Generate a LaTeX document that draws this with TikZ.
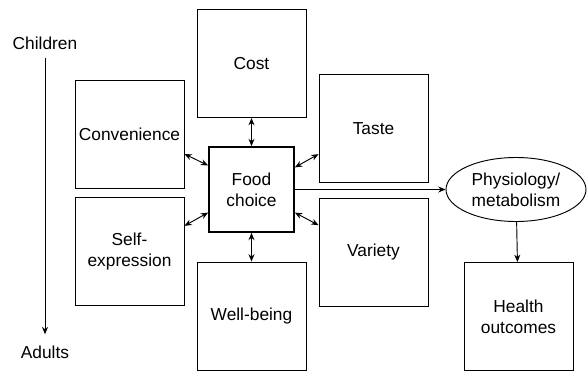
\documentclass[tikz,border=0pt]{standalone}
\usepackage{fontspec}
\setmainfont{Liberation Sans}
\usetikzlibrary{arrows.meta,shapes.geometric}
\begin{document}
\begin{tikzpicture}[x=0.75pt,y=-0.75pt]
        \tikzstyle{factor}=[rectangle,draw,line width=0.7pt,inner sep=0,minimum width=81.75pt,minimum height=81pt,align=center]
        \tikzstyle{choice}=[rectangle,draw,line width=1.3pt,inner sep=0,minimum size=63.75pt,align=center]
        \tikzstyle{link}=[line width=0.7pt,{Stealth[length=5.5pt,width=4.5pt]}-{Stealth[length=5.5pt,width=4.5pt]}]
        \tikzstyle{flow}=[line width=0.7pt,-{Stealth[length=5.5pt,width=4.5pt]}]
        \tikzset{every node/.style={font=\fontsize{13}{15.6}\selectfont}}
        \useasboundingbox (0,0) rectangle (587,372);

        % Central node and the factors around it
        \node(food)[choice] at (251.5,189.5){Food\\choice};
        \node(cost)[factor] at (251.5,63.5){Cost};
        \node(conv)[factor] at (129.5,134){Convenience};
        \node(taste)[factor] at (373.5,128.5){Taste};
        \node(self)[factor] at (129.5,251.5){Self-\\expression};
        \node(variety)[factor] at (373.5,252){Variety};
        \node(well)[factor] at (251.5,316){Well-being};

        % Outcomes
        \node(phys)[ellipse,draw,line width=0.7pt,inner sep=0,minimum width=105pt,minimum height=48pt,align=center] at (516,189.5){Physiology/\\metabolism};
        \node(health)[factor] at (518.5,316.5){Health\\outcomes};

        % Age axis
        \node(children) at (45,43){Children};
        \node(adults) at (45,352){Adults};

        % Two-way links to food choice
        \draw[link] (cost) -- (food);
        \draw[link] (well) -- (food);
        \draw[link] (conv.-20) -- (food.151);
        \draw[link] (taste.205) -- (food.27);
        \draw[link] (self.25) -- (food.208);
        \draw[link] (variety.154) -- (food.332);

        % One-way arrows
        \draw[flow] (food) -- (phys);
        \draw[flow] (phys) -- (health);
        \draw[flow,shorten <=3pt,shorten >=5pt] (children) -- (adults);
\end{tikzpicture}
\end{document}
